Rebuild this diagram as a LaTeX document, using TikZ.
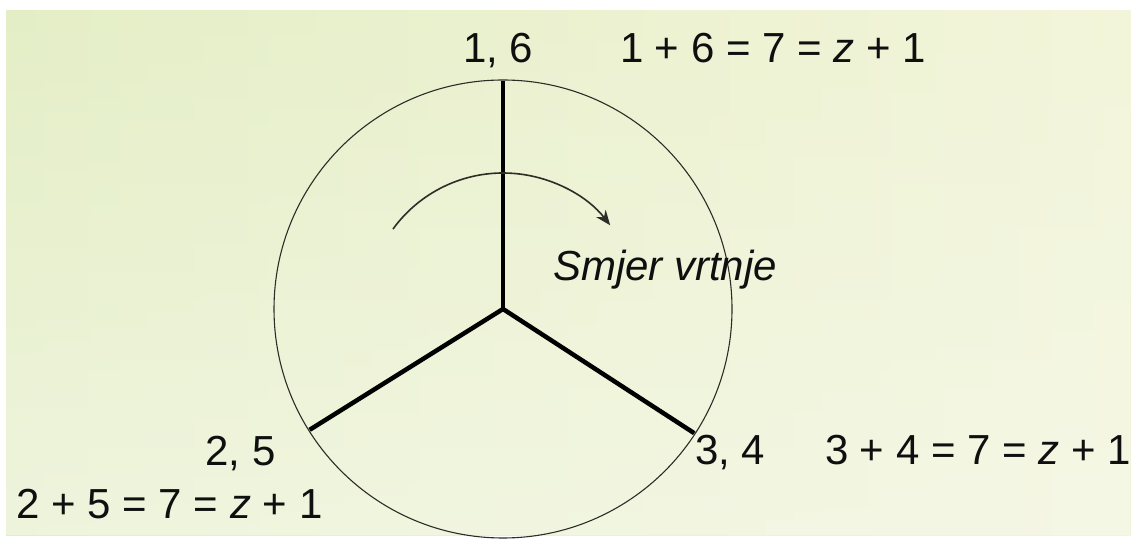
\documentclass[tikz,border=0pt]{standalone}
\usepackage{fontspec}
\setmainfont{Liberation Sans}
\usetikzlibrary{arrows.meta,calc,fadings}
\definecolor{bgleft}{RGB}{228,238,198}
\definecolor{bgright}{RGB}{243,245,218}
\definecolor{bgtop}{RGB}{246,249,236}
\definecolor{inkc}{RGB}{15,15,15}
\definecolor{rimc}{RGB}{45,45,40}
\tikzset{
  lbl/.style={anchor=base west, inner sep=0pt, outer sep=0pt, text=inkc,
    font=\fontsize{42}{48}\selectfont},
  spoke/.style={line width=4.5pt, draw=black, line cap=butt},
  rim/.style={line width=1.1pt, draw=rimc},
  turn/.style={line width=1.6pt, draw=rimc, -{Stealth[length=15pt,width=12pt]}}
}
\begin{document}
\begin{tikzpicture}[x=1pt,y=1pt]
  \useasboundingbox (0,0) rectangle (1131,543);
  \fill[white] (0,0) rectangle (1131,543);
  \shade[left color=bgleft, right color=bgright] (6,8) rectangle (1131,532);
  \fill[bgtop, path fading=north, opacity=0.6] (6,8) rectangle (1131,532);
  % wheel
  \coordinate (c) at (503,234);
  \coordinate (p16) at ($(c)+(90:228)$);
  \coordinate (p25) at ($(c)+(212:228)$);
  \coordinate (p34) at ($(c)+(327:228)$);
  \draw[rim] (c) circle[radius=229];
  \draw[spoke] (c) -- (p16);
  \draw[spoke] (c) -- (p25);
  \draw[spoke] (c) -- (p34);
  \draw[turn] ($(c)+(144:136)$) arc[start angle=144, end angle=38, radius=136];
  % labels
  \node[lbl] (n16) at (463,480) {1, 6};
  \node[lbl] (e16) at (620,480) {1 + 6 = 7 = {\itshape z} + 1};
  \node[lbl] (n34) at (695,78) {3, 4};
  \node[lbl] (e34) at (825,78) {3 + 4 = 7 = {\itshape z} + 1};
  \node[lbl] (n25) at (205.5,77) {2, 5};
  \node[lbl] (e25) at (16.5,25) {2 + 5 = 7 = {\itshape z} + 1};
  \node[lbl] (dir) at (553,262) {\itshape Smjer vrtnje};
\end{tikzpicture}
\end{document}
